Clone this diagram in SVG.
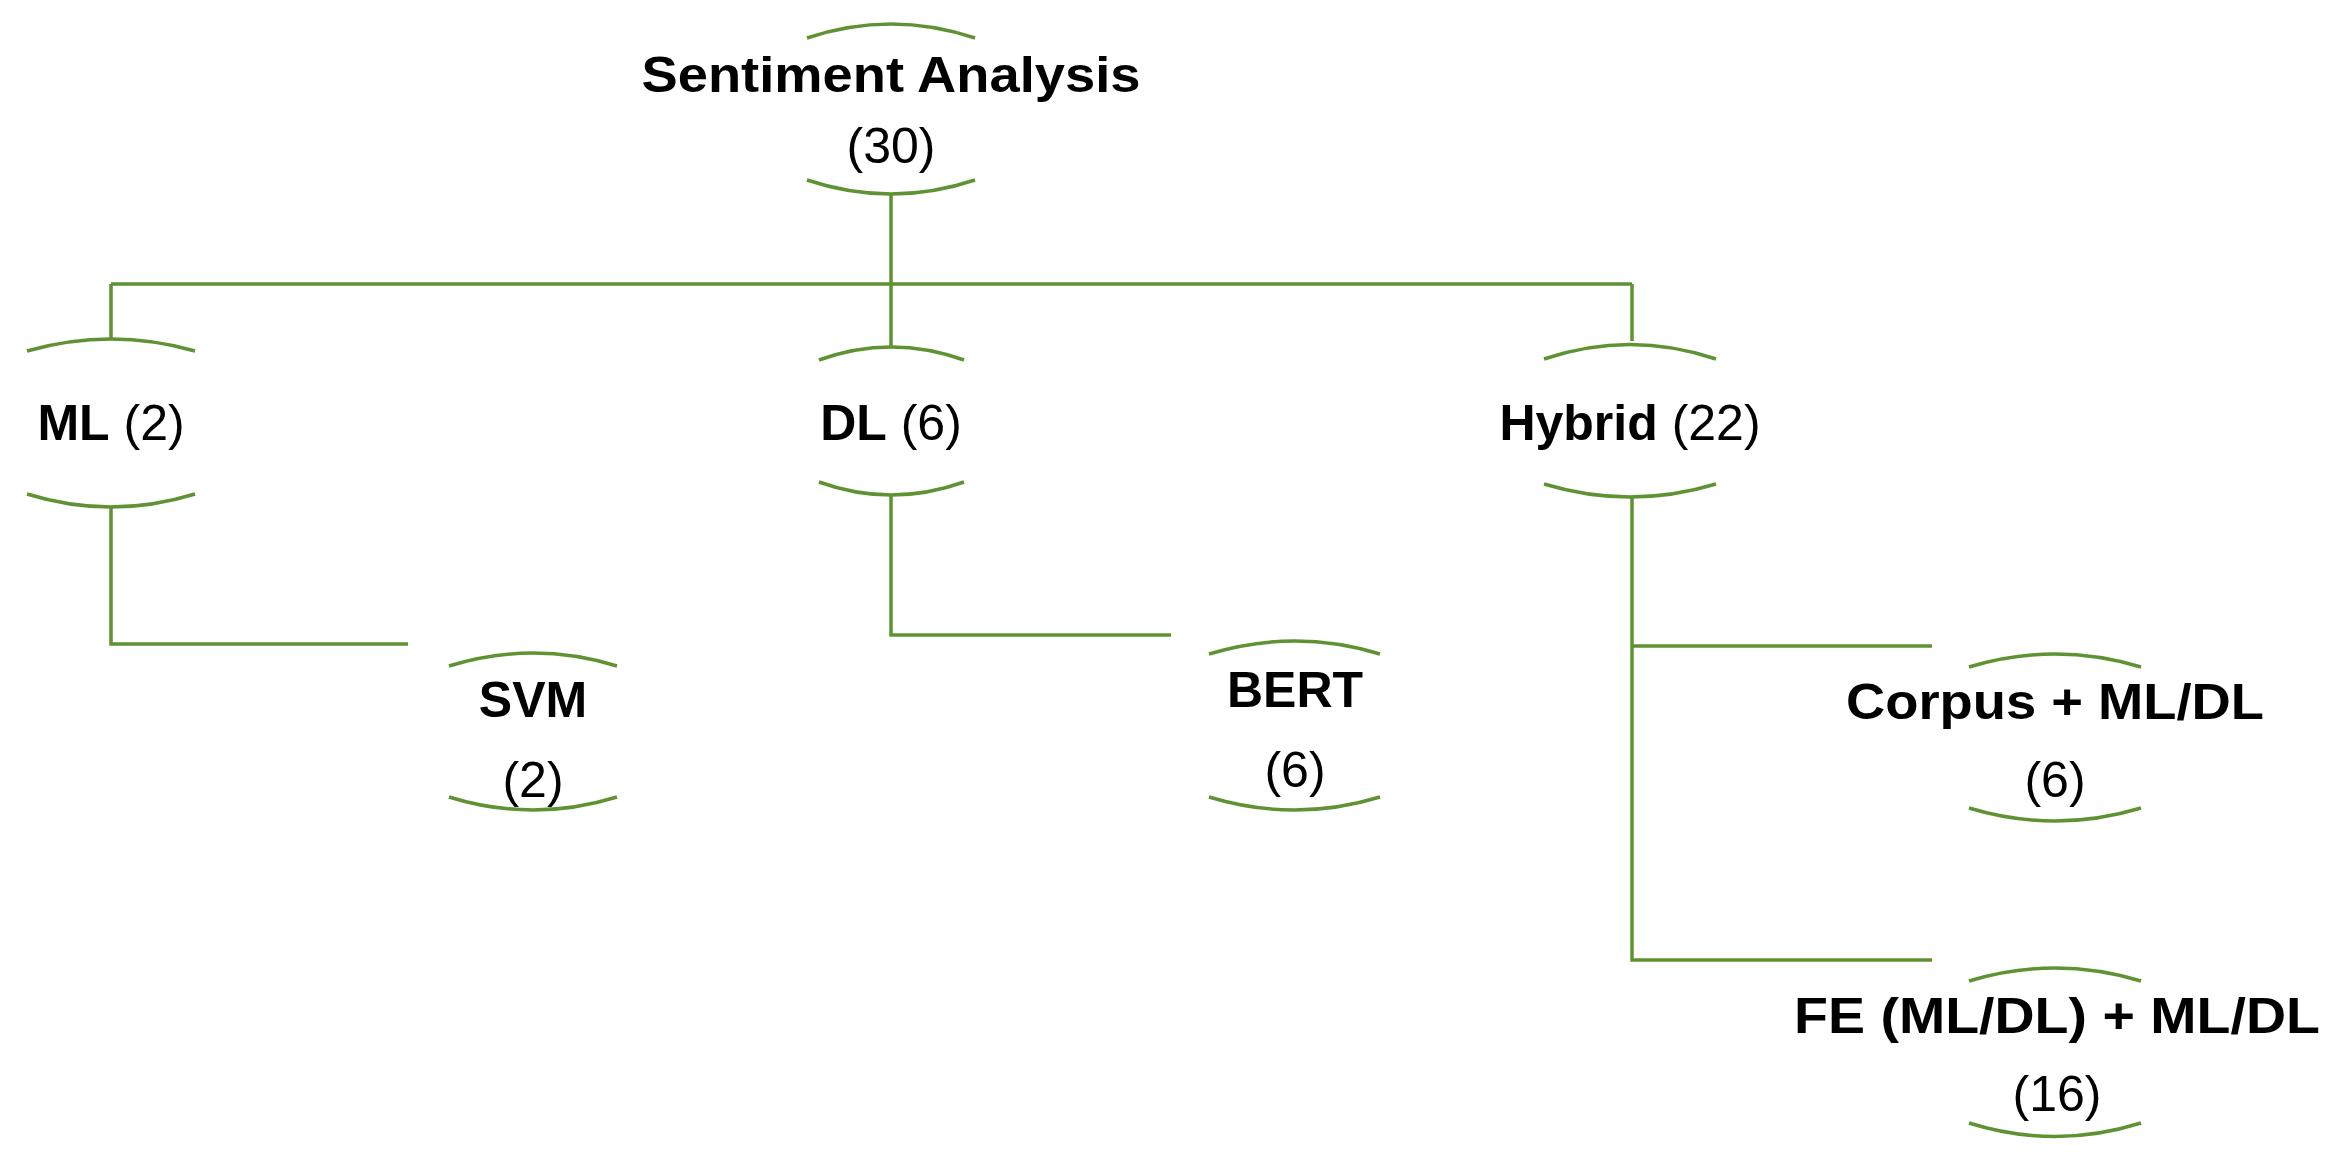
<svg xmlns="http://www.w3.org/2000/svg" width="2344" height="1161" viewBox="0 0 2344 1161">
<style>
.arc{fill:none;stroke:#5f9233;stroke-width:3.5}
.ln{fill:none;stroke:#5f9233;stroke-width:3.5}
text{font-family:"Liberation Sans",Arial,sans-serif;font-size:50px;fill:#000;text-anchor:middle}
.b{font-weight:bold}
</style>
<rect width="2344" height="1161" fill="#fff"/>
<g id="connectors">
<path class="ln" d="M891 194V284M111 284H1632M111 284V339M891 284V347M1632 284V341"/>
<path class="ln" d="M111 508V644H408"/>
<path class="ln" d="M891 496V635H1171"/>
<path class="ln" d="M1632 497V960H1932M1632 646H1932"/>
</g>
<g id="root">
<path class="arc" d="M807 38Q891 10 975 38M807 180Q891 208 975 180"/>
<text x="891" y="92" class="b" textLength="499" lengthAdjust="spacingAndGlyphs">Sentiment Analysis</text>
<text x="891" y="163">(30)</text>
</g>
<g id="ml">
<path class="arc" d="M27 351Q111 327 195 351M27 494Q111 520 195 494"/>
<text x="111" y="440"><tspan class="b">ML</tspan> (2)</text>
</g>
<g id="dl">
<path class="arc" d="M819 360Q891 334 964 360M819 482Q891 508 964 482"/>
<text x="891" y="440"><tspan class="b">DL</tspan> (6)</text>
</g>
<g id="hybrid">
<path class="arc" d="M1544 359Q1630 330 1716 359M1544 484Q1630 510 1716 484"/>
<text x="1630" y="440"><tspan class="b">Hybrid</tspan> (22)</text>
</g>
<g id="svm">
<path class="arc" d="M449 666Q533 640 617 666M449 797Q533 823 617 797"/>
<text x="533" y="717" class="b">SVM</text>
<text x="533" y="797">(2)</text>
</g>
<g id="bert">
<path class="arc" d="M1209 654Q1295 628 1380 654M1209 797Q1295 823 1380 797"/>
<text x="1295" y="707" class="b">BERT</text>
<text x="1295" y="787">(6)</text>
</g>
<g id="corpus">
<path class="arc" d="M1969 667Q2055 641 2141 667M1969 808Q2055 834 2141 808"/>
<text x="2055" y="719" class="b" textLength="418" lengthAdjust="spacingAndGlyphs">Corpus + ML/DL</text>
<text x="2055" y="797">(6)</text>
</g>
<g id="fe">
<path class="arc" d="M1969 981Q2055 955 2141 981M1969 1123Q2055 1150 2141 1123"/>
<text x="2057" y="1033" class="b" textLength="526" lengthAdjust="spacingAndGlyphs">FE (ML/DL) + ML/DL</text>
<text x="2057" y="1111">(16)</text>
</g>
</svg>
